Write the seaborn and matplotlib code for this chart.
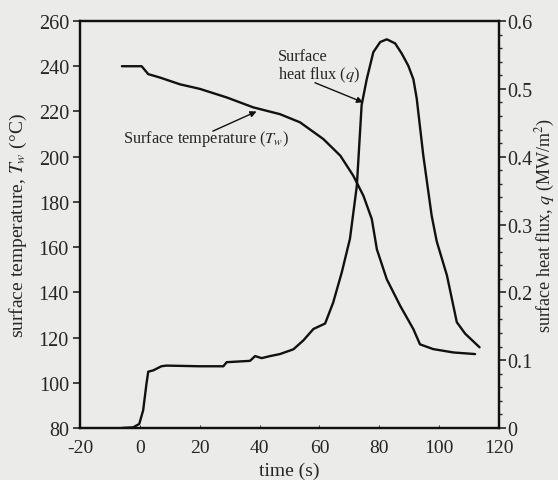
import matplotlib
matplotlib.use("Agg")
import matplotlib.pyplot as plt
from matplotlib.ticker import MultipleLocator
import seaborn as sns
import pandas as pd

# ---- data ----
temp_time = [-6, 0.6, 2.8, 6.7, 13.4, 20, 29, 37.9, 46.8, 53.5, 61.3, 67, 71.3,
             74.7, 77.5, 79.2, 82.5, 87, 91.4, 93.6, 98, 104.8, 112]
temp_vals = [240, 240, 236.5, 235, 232, 230, 226.2, 221.8, 218.8, 215.2, 207.8,
             200.4, 191.6, 182.7, 172.4, 159, 145.8, 134, 123.7, 117, 114.9, 113.4, 112.7]

flux_time = [-6, -2.2, -0.2, 1.1, 2.2, 2.8, 4.5, 7.2, 8.9, 20, 27.9, 29, 36.8, 38.5,
             40.7, 43.5, 46.8, 51.3, 54.6, 58, 61.9, 64.6, 67.5, 70.2, 72.5, 74.1,
             75.8, 78, 80.3, 82.5, 85.3, 87.5, 89.7, 91.4, 92.5, 94.7, 97.5, 99.2,
             102.6, 105.9, 108.7, 113.5]
flux_vals = [0, 0.001, 0.006, 0.026, 0.065, 0.083, 0.085, 0.091, 0.092, 0.091, 0.091,
             0.097, 0.099, 0.106, 0.103, 0.106, 0.109, 0.116, 0.129, 0.146, 0.154,
             0.185, 0.230, 0.279, 0.357, 0.476, 0.514, 0.554, 0.569, 0.573, 0.567,
             0.552, 0.534, 0.514, 0.486, 0.402, 0.313, 0.275, 0.225, 0.156, 0.139, 0.119]

x_ticks = [-20, 0, 20, 40, 60, 80, 100, 120]
left_ticks = [80, 100, 120, 140, 160, 180, 200, 220, 240, 260]
right_ticks = [0, 0.1, 0.2, 0.3, 0.4, 0.5, 0.6]
right_tick_labels = ["0", "0.1", "0.2", "0.3", "0.4", "0.5", "0.6"]

temp_df = pd.DataFrame({"time": temp_time, "T": temp_vals})
flux_df = pd.DataFrame({"time": flux_time, "q": flux_vals})

sns.set_theme(style="ticks")
bg = "#ebebe9"
plt.rcParams["font.family"] = ["Liberation Serif", "DejaVu Serif"]
plt.rcParams["mathtext.fontset"] = "stix"
plt.rcParams["axes.unicode_minus"] = False

fig = plt.figure(figsize=(5.58, 4.81), dpi=100, facecolor=bg)
ax = fig.add_axes([80 / 558, 1 - 429 / 481, (499 - 80) / 558, (429 - 22) / 481])
ax.set_facecolor(bg)
ax2 = ax.twinx()

sns.lineplot(data=temp_df, x="time", y="T", ax=ax, color="#111111", lw=1.7, sort=False)
sns.lineplot(data=flux_df, x="time", y="q", ax=ax2, color="#111111", lw=1.7, sort=False)

ax.set_xlim(-20, 120)
ax.set_ylim(80, 260)
ax2.set_ylim(0, 0.6)
ax.set_xticks(x_ticks)
ax.set_yticks(left_ticks)
ax2.set_yticks(right_ticks)
ax2.set_yticklabels(right_tick_labels)
ax2.yaxis.set_minor_locator(MultipleLocator(0.02))

for a in (ax, ax2):
    for s in a.spines.values():
        s.set_linewidth(1.6)
        s.set_color("#111111")

ax.tick_params(axis="y", direction="out", length=5, width=1.2, labelsize=14.5, pad=3)
ax.tick_params(axis="x", direction="in", length=2, width=0.7, labelsize=14, pad=8)
ax2.tick_params(axis="y", which="major", direction="out", length=5, width=1.2,
                labelsize=14.5, pad=1)
ax2.tick_params(axis="y", which="minor", direction="out", length=2.5, width=1.0)

ax.set_xlabel("time (s)", fontsize=14, labelpad=4)
ax.set_ylabel(r"surface temperature, $T_w$ (°C)", fontsize=14, labelpad=7)
ax2.set_ylabel(r"surface heat flux, $q$ (MW/m$^2$)", fontsize=13, labelpad=1)

# annotations
ax.text(-5.7, 208.2, r"Surface temperature ($T_w$)", fontsize=11.8, ha="left", va="center")
ax.annotate("", xy=(39.0, 220.0), xytext=(24.4, 211.3),
            arrowprops=dict(arrowstyle="-|>", color="#111111", lw=1.0, mutation_scale=9,
                            shrinkA=0, shrinkB=0))
ax2.text(46.2, 0.534, "Surface\n" + r"heat flux ($q$)", fontsize=11.8, ha="left",
         va="center", linespacing=1.05)
ax2.annotate("", xy=(74.6, 0.480), xytext=(58.5, 0.509),
             arrowprops=dict(arrowstyle="-|>", color="#111111", lw=1.0, mutation_scale=9,
                             shrinkA=0, shrinkB=0))

fig.savefig("out.png", dpi=100, facecolor=bg)
